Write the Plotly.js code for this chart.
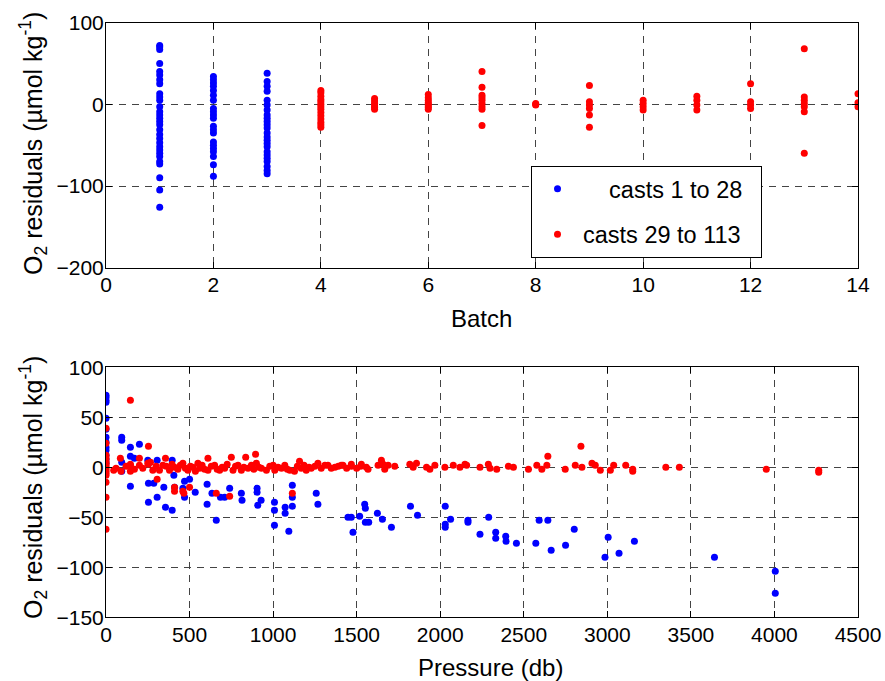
<!DOCTYPE html>
<html>
<head>
<meta charset="utf-8">
<script src="https://cdn.plot.ly/plotly-3.0.1.min.js"></script>
<style>html,body{margin:0;padding:0;background:#fff;}#chart{width:885px;height:681px;}</style>
</head>
<body>
<div id="chart"></div>
<script>
// ---- Top panel: residuals by batch ----
const batchNumbers = [1, 2, 3, 4, 5, 6, 7, 8, 9, 10, 11, 12, 13, 14];
const batchResiduals = [
  [72, 70, 67, 50, 40, 36, 30, 25, 13, 9, 5, -3, -9, -13, -17, -21, -25, -31, -37, -42, -47, -52, -56, -60, -64, -70, -73, -90, -105, -126],
  [34, 30, 26, 22, 17, 11, 5, -5, -9, -13, -17, -27, -31, -35, -46, -50, -54, -58, -64, -74, -88],
  [38, 28, 22, 16, 5, -1, -7, -13, -17, -21, -25, -29, -35, -40, -44, -48, -52, -58, -62, -66, -70, -76, -81, -85],
  [17, 14, 10, 6, 3, 0, -3, -6, -10, -14, -18, -22, -25, -28],
  [7, 4, 1, -2, -4, -6],
  [12, 8, 5, 2, 0, -2, -4, -6],
  [40, 21, 11, 8, 5, 1, -3, -6, -26],
  [1, 0, -1],
  [23, 3, -1, -5, -13, -28],
  [5, 1, -3, -7],
  [10, 5, -1, -7],
  [25, 3, -1, -5],
  [68, 9, 5, 1, -3, -9, -60],
  [13, 2, -3]
];
const lastBlueBatch = 3; // casts 1 to 28 fall in batches 1-3

// ---- Bottom panel: residuals by pressure ----
const bluePressure = [0, 0, 0, 0, 0, 0, 0, 0, 0, 0, 0, 0, 0,
  94, 94, 146, 200, 146, 94, 170, 250, 306, 396, 94, 146, 254, 286, 346, 406, 410, 470, 500, 460, 470, 534,
  254, 306, 356, 396, 605, 605, 634, 660, 685, 710, 740, 810, 814, 904, 904, 928, 908, 1008, 1008, 1072, 1072,
  1115, 1115, 1115, 1008, 1094, 1258, 1268, 1448, 1468, 1478, 1518, 1548, 1552, 1552, 1572, 1624, 1654, 1708,
  1822, 1864, 2030, 2062, 2030, 2030, 2166, 2166, 2238, 2290, 2332, 2332, 2392, 2394, 2456, 2572, 2592, 2644,
  2664, 2750, 2802, 2986, 3005, 3070, 3162, 3641, 4005, 4005];
const blueResidual = [72, 70, 67, 65, 49, 38, 30, 25, 20, 17, 12, 8, 4,
  30, 27, 20, 23, 11, 5, 9, 7, 7, 7, -4, -19, -16, -16, -20, -8, -20, -14, -12, -21, -30, -25,
  -35, -30, -40, -43, -17, -37, -26, -53, -30, -30, -21, -26, -33, -21, -25, -33, -38, -35, -43, -40, -46,
  -18, -30, -39, -58, -64, -26, -37, -50, -50, -65, -49, -37, -41, -55, -55, -46, -52, -60,
  -39, -48, -39, -52, -57, -60, -53, -55, -67, -50, -65, -71, -69, -74, -76, -76, -53, -53,
  -83, -78, -62, -90, -70, -86, -74, -90, -104, -126];

const redPressure = [0, 0, 0, 0, 0, 0, 0, 0, 0, 0, 0, 0, 0, 0, 0,
  146, 254, 86, 200, 146, 254, 306, 356, 410, 410, 460, 466, 500, 660, 740, 895, 1115, 836, 750, 610, 550,
  46, 60, 90, 120, 146, 146, 170, 200, 220, 250, 266, 280, 300, 320, 340, 360, 380, 395, 410, 430, 445, 460,
  475, 490, 505, 520, 535, 560, 575, 590, 610, 630, 650, 665, 680, 695, 710, 725, 760, 775, 790, 810, 825,
  850, 870, 885, 900, 915, 930, 960, 980, 1000, 1010, 1030, 1050, 1070, 1085, 1100, 1128, 1145, 1158, 1168,
  1185, 1198, 1215, 1228, 1250, 1268, 1288, 1310, 1328, 1348, 1370, 1390, 1408, 1440, 1468, 1500, 1524,
  1418, 1468, 1528, 1558, 1568, 1628, 1648, 1658, 1668, 1688, 1728, 1818, 1838, 1858, 1918, 1938, 1968,
  2028, 2078, 2118, 2148, 2158, 2238, 2288, 2298, 2338, 2408, 2438, 2528, 2578, 2608, 2638, 2644, 2748,
  2808, 2842, 2848, 2908, 2928, 2958, 3018, 3038, 3110, 3152, 3152, 3350, 3431, 3951, 4265, 4265];
const redResidual = [39, 24, 12, 9, 6, 4, 2, 0, -2, -4, -6, -8, -15, -30, -62,
  67, 21, 9, 9, 3, 3, -12, 9, -20, -24, -24, -26, -20, -26, -29, 13, -26, 10, 10, 9, 4,
  -3, -1, -4, 1, 2, -4, -2, 2, -1, 4, 5, -3, 1, -3, 2, 1, -3, 3, 0, -2, 2, 4,
  -1, -3, 1, 0, -4, -1, 2, -2, -3, 1, 2, -2, -3, 0, -1, 3, -3, 1, 2, -3, 0,
  -1, 2, -2, 4, 0, -1, -3, 1, 2, -3, 0, -1, 2, -2, -3, -4, 1, 6, -1,
  2, -3, 0, -1, 1, 4, -1, 2, 2, -1, 0, 1, 2, -1, 1, -1, 1,
  2, 3, 3, 0, -2, 2, 7, 3, -2, 2, 1, 3, 0, 4, 0, -2, 2,
  0, 2, 0, 3, 2, 0, 3, -1, -2, 1, 0, -2, 2, -2, 2, 11, -2,
  2, 21, 0, 4, 2, -3, -3, 2, 2, -2, -4, 0, 0, -2, -3, -5];

const seriesNames = ['casts 1 to 28', 'casts 29 to 113'];
const seriesColors = ['#0000ff', '#ff0000'];

// build top-panel series from the batch table
const topBlueX = [], topBlueY = [], topRedX = [], topRedY = [];
batchNumbers.forEach((b, i) => {
  batchResiduals[i].forEach(v => {
    if (b <= lastBlueBatch) { topBlueX.push(b); topBlueY.push(v); }
    else { topRedX.push(b); topRedY.push(v); }
  });
});

const FONT = 'Liberation Sans, Arial, Helvetica, sans-serif';
const mk = (c) => ({color: c, size: 7, line: {width: 0}});
const NB = '\u00a0';

const traces = [
  {x: topBlueX, y: topBlueY, type: 'scatter', mode: 'markers', name: NB.repeat(4) + seriesNames[0] + NB.repeat(2),
   marker: mk(seriesColors[0]), xaxis: 'x', yaxis: 'y', legendgroup: 'a'},
  {x: topRedX, y: topRedY, type: 'scatter', mode: 'markers', name: seriesNames[1] + NB.repeat(2),
   marker: mk(seriesColors[1]), xaxis: 'x', yaxis: 'y', legendgroup: 'b'},
  {x: bluePressure, y: blueResidual, type: 'scatter', mode: 'markers', name: seriesNames[0],
   marker: mk(seriesColors[0]), xaxis: 'x2', yaxis: 'y2', showlegend: false},
  {x: redPressure, y: redResidual, type: 'scatter', mode: 'markers', name: seriesNames[1],
   marker: mk(seriesColors[1]), xaxis: 'x2', yaxis: 'y2', showlegend: false}
];

const axisCommon = {
  showline: true, linecolor: '#000', linewidth: 1, mirror: 'allticks',
  ticks: 'inside', ticklen: 6, tickcolor: '#000', tickwidth: 1,
  showgrid: true, gridcolor: '#444', gridwidth: 1, griddash: '7px,6px',
  zeroline: false, tickfont: {family: FONT, size: 21, color: '#000'},
  fixedrange: true
};

const W = 885, H = 681;
const xDom = [106 / W, 858 / W];

const layout = {
  width: W, height: H, autosize: false,
  margin: {l: 0, r: 0, t: 0, b: 0},
  paper_bgcolor: '#fff', plot_bgcolor: '#fff',
  font: {family: FONT, color: '#000'},
  showlegend: true,
  legend: {
    x: 531 / W, y: 1 - 166 / H, xanchor: 'left', yanchor: 'top',
    bgcolor: '#fff', bordercolor: '#000', borderwidth: 1,
    font: {family: FONT, size: 23.5, color: '#000'},
    tracegroupgap: 12, traceorder: 'grouped', itemwidth: 41
  },
  xaxis: Object.assign({}, axisCommon, {domain: xDom, anchor: 'y', range: [0, 14], dtick: 2, tick0: 0, ticklabelstandoff: -2}),
  yaxis: Object.assign({}, axisCommon, {domain: [1 - 267.7 / H, 1 - 22.6 / H], anchor: 'x', range: [-200, 100], dtick: 100, tick0: 0, ticklabelstandoff: -3}),
  xaxis2: Object.assign({}, axisCommon, {domain: xDom, anchor: 'y2', range: [0, 4500], dtick: 500, tick0: 0, ticklabelstandoff: -2}),
  yaxis2: Object.assign({}, axisCommon, {domain: [1 - 617.3 / H, 1 - 367.3 / H], anchor: 'x2', range: [-150, 100], dtick: 50, tick0: 0, ticklabelstandoff: -3}),
  annotations: [
    {text: 'Batch', xref: 'paper', yref: 'paper', x: 481 / W, y: 1 - 318 / H, xanchor: 'center', yanchor: 'middle',
     showarrow: false, font: {family: FONT, size: 24, color: '#000'}},
    {text: 'Pressure (db)', xref: 'paper', yref: 'paper', x: 491 / W, y: 1 - 667 / H, xanchor: 'center', yanchor: 'middle',
     showarrow: false, font: {family: FONT, size: 24, color: '#000'}},
    {text: 'O<sub>2</sub> residuals (µmol kg<sup>-1</sup>)', xref: 'paper', yref: 'paper', x: 33 / W, y: 1 - 144 / H,
     xanchor: 'center', yanchor: 'middle', textangle: -90, showarrow: false, font: {family: FONT, size: 25, color: '#000'}},
    {text: 'O<sub>2</sub> residuals (µmol kg<sup>-1</sup>)', xref: 'paper', yref: 'paper', x: 33 / W, y: 1 - 488 / H,
     xanchor: 'center', yanchor: 'middle', textangle: -90, showarrow: false, font: {family: FONT, size: 25, color: '#000'}}
  ]
};

Plotly.newPlot('chart', traces, layout, {displayModeBar: false, staticPlot: true});
</script>
</body>
</html>
